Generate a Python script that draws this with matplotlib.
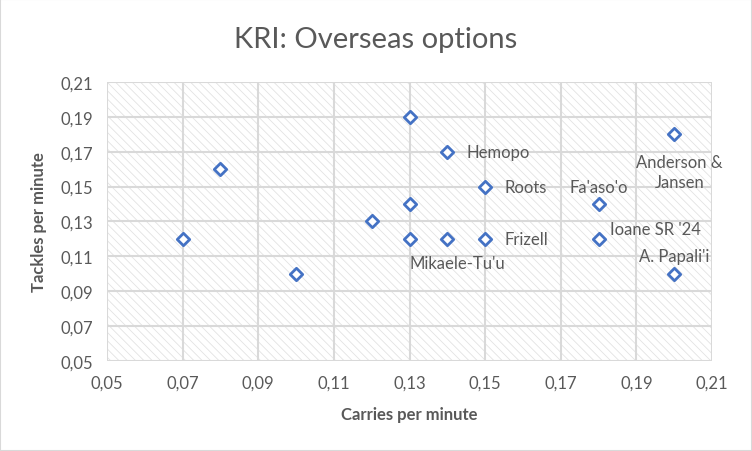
import matplotlib
matplotlib.use("Agg")
import matplotlib.pyplot as plt
from matplotlib.patches import Rectangle
from matplotlib.ticker import FuncFormatter

# data: carries per minute (x), tackles per minute (y)
carries = [0.07, 0.08, 0.10, 0.12, 0.13, 0.13, 0.13, 0.14, 0.14, 0.15, 0.15, 0.18, 0.18, 0.20, 0.20]
tackles = [0.12, 0.16, 0.10, 0.13, 0.19, 0.14, 0.12, 0.17, 0.12, 0.15, 0.12, 0.14, 0.12, 0.18, 0.10]
names = ["", "", "", "", "", "", "", "Hemopo", "Mikaele-Tu'u", "Roots", "Frizell",
         "Fa'aso'o", "Ioane SR '24", "Anderson &\nJansen", "A. Papali'i"]
ticks = [0.05, 0.07, 0.09, 0.11, 0.13, 0.15, 0.17, 0.19, 0.21]

# label offsets in points (dx, dy, ha, va)
offsets = {
    "Hemopo": (14, 0, "left", "center"),
    "Roots": (14, 0, "left", "center"),
    "Frizell": (14, 0, "left", "center"),
    "Mikaele-Tu'u": (7, -17, "center", "center"),
    "Fa'aso'o": (0, 12, "center", "center"),
    "Ioane SR '24": (8, 7, "left", "center"),
    "Anderson &\nJansen": (4, -27, "center", "center"),
    "A. Papali'i": (0, 13, "center", "center"),
}

plt.rcParams["font.family"] = ["Lato", "DejaVu Sans"]
plt.rcParams["hatch.color"] = "#e3e3e3"
plt.rcParams["hatch.linewidth"] = 0.6
grey_txt = "#595959"
grid_c = "#d9d9d9"

fig = plt.figure(figsize=(7.52, 4.52), dpi=100)
fig.patches.append(Rectangle((0, 0), 1, 1, transform=fig.transFigure, fill=False,
                             edgecolor=grid_c, lw=1.5))
ax = fig.add_axes([0.1423, 0.1991, 0.8045, 0.6173])

ax.set_xlim(0.05, 0.21)
ax.set_ylim(0.05, 0.21)
ax.add_patch(Rectangle((0, 0), 1, 1, transform=ax.transAxes, facecolor="white",
                       edgecolor="#e3e3e3", hatch="\\\\\\\\", lw=0, zorder=0))
ax.set_xticks(ticks)
ax.set_yticks(ticks)
fmt = FuncFormatter(lambda v, p: f"{v:.2f}".replace(".", ","))
ax.xaxis.set_major_formatter(fmt)
ax.yaxis.set_major_formatter(fmt)
ax.grid(True, color=grid_c, lw=1.5, zorder=1)
ax.set_axisbelow(True)
for s in ax.spines.values():
    s.set_visible(False)
ax.tick_params(length=0, labelsize=12, labelcolor=grey_txt, pad=10)

ax.scatter(carries, tackles, marker="D", s=40, facecolor="white",
           edgecolor="#4472c4", linewidth=2, zorder=3, clip_on=False)

for x, y, n in zip(carries, tackles, names):
    if not n:
        continue
    dx, dy, ha, va = offsets[n]
    ax.annotate(n, (x, y), xytext=(dx, dy), textcoords="offset points",
                ha=ha, va=va, fontsize=12, color=grey_txt, zorder=4,
                linespacing=1.3)

ax.set_xlabel("Carries per minute", fontsize=12, fontweight="bold", color=grey_txt, labelpad=11)
ax.set_ylabel("Tackles per minute", fontsize=12, fontweight="bold", color=grey_txt, labelpad=10)
fig.text(0.5, 0.912, "KRI: Overseas options", ha="center", va="center",
         fontsize=21, color=grey_txt)

fig.savefig("out.png", dpi=100)
